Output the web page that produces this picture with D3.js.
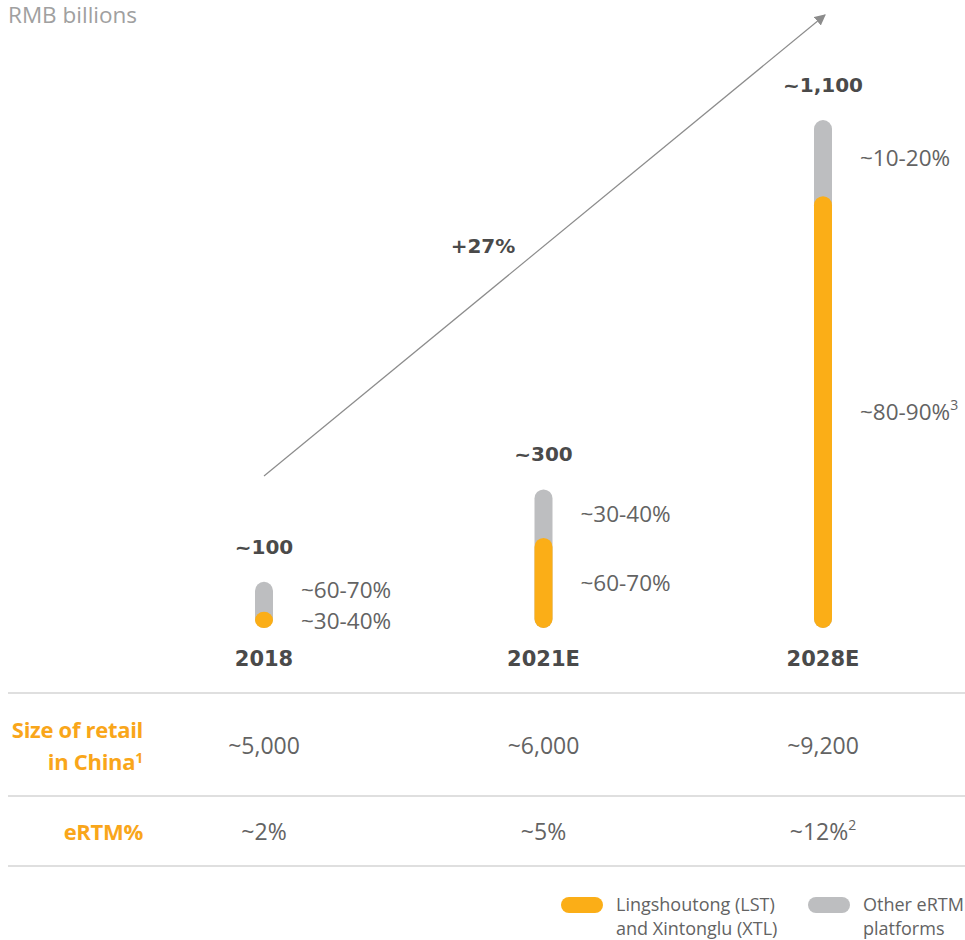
<!DOCTYPE html>
<html>
<head>
<meta charset="utf-8">
<script src="https://d3js.org/d3.v7.min.js"></script>
<style>
  body { margin: 0; background: #fff; }
  text { font-family: "Open Sans", "Noto Sans", sans-serif; }
  .big { font-family: "DejaVu Sans", sans-serif; font-weight: bold; fill: #4a4a4a; }
</style>
</head>
<body>
<script>
// data
var years = ["2018", "2021E", "2028E"];
var totals = [100, 300, 1100];
var totalLabels = ["~100", "~300", "~1,100"];
var lstShare = [0.35, 0.65, 0.85];
var lstLabels = ["~30-40%", "~60-70%", "~80-90%"];
var otherLabels = ["~60-70%", "~30-40%", "~10-20%"];
var lstNotes = ["", "", "3"];
var retailSize = ["~5,000", "~6,000", "~9,200"];
var ertm = ["~2%", "~5%", "~12%"];
var ertmNotes = ["", "", "2"];
var cagr = "+27%";

var W = 965, H = 940;
var orange = "#FBAE17", grey = "#BDBEC0", txt = "#636363";

var svg = d3.select("body").append("svg")
  .attr("width", W).attr("height", H);

var x = d3.scalePoint().domain(years).range([264, 823]);
var y = d3.scaleLinear().domain([0, 1100]).range([628, 120]);
var bw = 18;

svg.append("text")
  .attr("x", 8).attr("y", 23)
  .style("font-size", "22.5px").style("fill", "#a0a0a0")
  .text("RMB billions");

// growth arrow
svg.append("defs").append("marker")
  .attr("id", "head").attr("viewBox", "0 0 10 10")
  .attr("refX", 9).attr("refY", 5)
  .attr("markerWidth", 11).attr("markerHeight", 11)
  .attr("markerUnits", "userSpaceOnUse")
  .attr("orient", "auto")
  .append("path").attr("d", "M0,0L10,5L0,10z").attr("fill", "#8c8c8c");

svg.append("line")
  .attr("x1", 264).attr("y1", 476).attr("x2", 825).attr("y2", 15)
  .attr("stroke", "#8c8c8c").attr("stroke-width", 1.2)
  .attr("marker-end", "url(#head)");

svg.append("text").attr("class", "big")
  .attr("x", 483).attr("y", 253).attr("text-anchor", "middle")
  .style("font-size", "20px")
  .text(cagr);

var g = svg.selectAll(".col").data(years).enter().append("g").attr("class", "col");

// grey = full bar, orange = LST share on top
g.append("rect")
  .attr("x", function (d) { return x(d) - bw / 2; })
  .attr("y", function (d, i) { return y(totals[i]); })
  .attr("width", bw)
  .attr("height", function (d, i) { return y(0) - y(totals[i]); })
  .attr("rx", bw / 2).attr("fill", grey);

g.append("rect")
  .attr("x", function (d) { return x(d) - bw / 2; })
  .attr("y", function (d, i) { return y(totals[i] * lstShare[i]); })
  .attr("width", bw)
  .attr("height", function (d, i) { return y(0) - y(totals[i] * lstShare[i]); })
  .attr("rx", bw / 2).attr("fill", orange);

g.append("text").attr("class", "big")
  .attr("x", function (d) { return x(d); })
  .attr("y", function (d, i) { return y(totals[i]) - 28; })
  .attr("text-anchor", "middle")
  .style("font-size", "20px")
  .text(function (d, i) { return totalLabels[i]; });

g.append("text").attr("class", "big")
  .attr("x", function (d) { return x(d); })
  .attr("y", 666).attr("text-anchor", "middle")
  .style("font-size", "21px")
  .text(function (d) { return d; });

// share labels at segment middles, pushed apart when too close
var labY = years.map(function (d, i) {
  var top = (y(totals[i]) + y(totals[i] * lstShare[i])) / 2;
  var bot = (y(0) + y(totals[i] * lstShare[i])) / 2;
  if (bot - top < 31) {
    var m = (top + bot) / 2 - 3;
    top = m - 15.5; bot = m + 15.5;
  }
  return [top, bot];
});

g.append("text")
  .attr("x", function (d) { return x(d) + 37; })
  .attr("y", function (d, i) { return labY[i][0] + 8; })
  .style("font-size", "22.5px").style("fill", txt)
  .text(function (d, i) { return otherLabels[i]; });

var lt = g.append("text")
  .attr("x", function (d) { return x(d) + 37; })
  .attr("y", function (d, i) { return labY[i][1] + 8; })
  .style("font-size", "22.5px").style("fill", txt)
  .text(function (d, i) { return lstLabels[i]; });
lt.append("tspan").attr("dy", -10).style("font-size", "14px")
  .text(function (d, i) { return lstNotes[i]; });

// table
[693, 796, 866].forEach(function (ly) {
  svg.append("line").attr("x1", 8).attr("x2", W).attr("y1", ly).attr("y2", ly)
    .attr("stroke", "#d4d4d4").attr("stroke-width", 1.5);
});

var hd = svg.append("g").style("font-size", "22px").style("font-weight", "bold")
  .style("fill", "#F9A61A").style("letter-spacing", "-0.3px").attr("text-anchor", "end");
hd.append("text").attr("x", 143).attr("y", 738).text("Size of retail");
var c1 = hd.append("text").attr("x", 143).attr("y", 770).text("in China");
c1.append("tspan").attr("dy", -7).style("font-size", "14px").text("1");
hd.append("text").attr("x", 143).attr("y", 840).text("eRTM%");

g.append("text")
  .attr("x", function (d) { return x(d); }).attr("y", 754).attr("text-anchor", "middle")
  .style("font-size", "23px").style("fill", txt)
  .text(function (d, i) { return retailSize[i]; });

var et = g.append("text")
  .attr("x", function (d) { return x(d); }).attr("y", 840).attr("text-anchor", "middle")
  .style("font-size", "23px").style("fill", txt)
  .text(function (d, i) { return ertm[i]; });
et.append("tspan").attr("dy", -10).style("font-size", "14px")
  .text(function (d, i) { return ertmNotes[i]; });

// legend
var legend = [
  { x: 561, c: orange, lines: ["Lingshoutong (LST)", "and Xintonglu (XTL)"] },
  { x: 808, c: grey, lines: ["Other eRTM", "platforms"] }
];
var lg = svg.selectAll(".lg").data(legend).enter().append("g");
lg.append("rect")
  .attr("x", function (d) { return d.x; }).attr("y", 897)
  .attr("width", 42).attr("height", 16).attr("rx", 8).attr("fill", function (d) { return d.c; });
lg.each(function (d) {
  d3.select(this).selectAll("text").data(d.lines).enter().append("text")
    .attr("x", d.x + 55).attr("y", function (t, i) { return 911 + i * 24; })
    .style("font-size", "18px").style("fill", txt)
    .text(function (t) { return t; });
});
</script>
</body>
</html>
